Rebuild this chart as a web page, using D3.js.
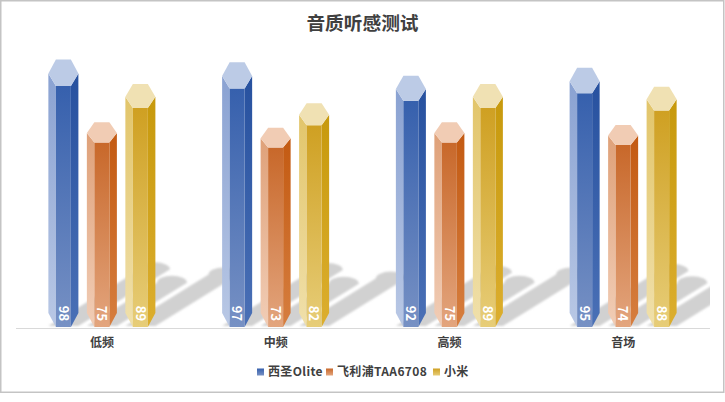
<!DOCTYPE html>
<html lang="zh">
  <head>
    <meta charset="UTF-8" />
    <title>音质听感测试</title>
    <style>
      html, body { margin: 0; padding: 0; background: #fff; }
      svg { display: block; }
      text { font-family: "Noto Sans CJK SC", sans-serif; }
      .x-axis path, .x-axis line { display: none; }
    </style>
  </head>

  <body>
    <script src="https://cdn.jsdelivr.net/npm/d3@7"></script>
    <script>
      // data
      var categories = ["低频", "中频", "高频", "音场"];
      var seriesNames = ["西圣Olite", "飞利浦TAA6708", "小米"];
      var oliteValues = [98, 97, 92, 95];
      var philipsValues = [75, 73, 75, 74];
      var xiaomiValues = [89, 82, 89, 88];
      var seriesValues = [oliteValues, philipsValues, xiaomiValues];

      // colours: [top, bottom] per face
      var palettes = [
        { front: ["#3660ad", "#7791c4"], left: ["#8aa2d2", "#b9c8e5"], right: ["#27519f", "#4a70b6"], cap: "#bccbe6" },
        { front: ["#c8682a", "#e3a57e"], left: ["#dfa179", "#f1cdb6"], right: ["#c35a12", "#d67e3f"], cap: "#f1ccb4" },
        { front: ["#cfa022", "#e7cd78"], left: ["#e2c56a", "#f0e0ab"], right: ["#c7990c", "#dcae2e"], cap: "#f0e1b3" }
      ];

      var width = 725, height = 402;
      var baseY = 328;

      var svg = d3.select("body").append("svg")
        .attr("width", width)
        .attr("height", height);

      var defs = svg.append("defs");
      palettes.forEach(function(p, i) {
        ["front", "left", "right"].forEach(function(face) {
          var g = defs.append("linearGradient")
            .attr("id", "grad-" + i + "-" + face)
            .attr("x1", 0).attr("y1", 0).attr("x2", 0).attr("y2", 1);
          g.append("stop").attr("offset", "0%").attr("stop-color", p[face][0]);
          g.append("stop").attr("offset", "100%").attr("stop-color", p[face][1]);
        });
      });
      defs.append("clipPath").attr("id", "plot-clip")
        .append("rect").attr("x", 16).attr("y", 40).attr("width", 694).attr("height", baseY - 40);
      defs.append("filter").attr("id", "soft")
        .append("feGaussianBlur").attr("stdDeviation", 0.8);

      // frame
      svg.append("rect")
        .attr("x", 0.75).attr("y", 0.75)
        .attr("width", 723).attr("height", 391.5)
        .attr("fill", "#fff")
        .attr("stroke", "#c4c4c4")
        .attr("stroke-width", 1.5);

      // scales
      var xScale = d3.scaleBand()
        .domain(categories)
        .range([15, 710]);
      var xInner = d3.scaleBand()
        .domain(seriesNames)
        .range([0, xScale.bandwidth()])
        .paddingInner(0.22)
        .paddingOuter(0.867);
      var yScale = d3.scaleLinear()
        .domain([0, 100])
        .range([327, 81]);

      var bars = [];
      seriesNames.forEach(function(name, s) {
        categories.forEach(function(cat, c) {
          bars.push({ s: s, name: name, cat: cat, value: seriesValues[s][c] });
        });
      });

      function cx(d) { return xScale(d.cat) + xInner(d.name) + xInner.bandwidth() / 2; }
      function barH(d) { return yScale(0) - yScale(d.value); }
      // cap looks deeper on taller columns
      function capDepth(d) { return d.value * 0.27; }

      var half = xInner.bandwidth() / 2, inner = half / 2;

      // shadows, thrown up and to the right
      var shadows = svg.append("g")
        .attr("clip-path", "url(#plot-clip)")
        .attr("filter", "url(#soft)");
      shadows.selectAll("path")
        .data(bars)
        .enter()
        .append("path")
        .attr("fill", "#d1d1d1")
        .attr("d", function(d) {
          var x = cx(d), y0 = baseY - 2;
          var dx = barH(d) * 0.38, dy = barH(d) * 0.235;
          return "M" + (x - half) + "," + y0 +
            "L" + (x - half + dx) + "," + (y0 - dy) +
            "A" + half + ",7 0 0 1 " + (x + half + dx) + "," + (y0 - dy) +
            "L" + (x + half) + "," + y0 + "Z";
        });

      // baseline
      svg.append("line")
        .attr("x1", 16).attr("x2", 710)
        .attr("y1", baseY + 0.5).attr("y2", baseY + 0.5)
        .attr("stroke", "#d9d9d9")
        .attr("stroke-width", 1);

      // hexagonal columns
      var line = d3.line();

      var col = svg.selectAll(".col")
        .data(bars)
        .enter()
        .append("g")
        .attr("class", "col");

      col.append("path")
        .attr("fill", function(d) { return "url(#grad-" + d.s + "-left)"; })
        .attr("d", function(d) {
          var x = cx(d), t = yScale(d.value), b = yScale(0), m = capDepth(d) * 0.47;
          return line([[x - half, t - m], [x - inner, t], [x - inner, b], [x - half, b - 14]]) + "Z";
        });
      col.append("path")
        .attr("fill", function(d) { return "url(#grad-" + d.s + "-right)"; })
        .attr("d", function(d) {
          var x = cx(d), t = yScale(d.value), b = yScale(0), m = capDepth(d) * 0.47;
          return line([[x + half, t - m], [x + inner, t], [x + inner, b], [x + half, b - 14]]) + "Z";
        });
      col.append("path")
        .attr("fill", function(d) { return "url(#grad-" + d.s + "-front)"; })
        .attr("d", function(d) {
          var x = cx(d), t = yScale(d.value), b = yScale(0);
          return line([[x - inner, t], [x + inner, t], [x + inner, b], [x - inner, b]]) + "Z";
        });
      col.append("path")
        .attr("fill", function(d) { return palettes[d.s].cap; })
        .attr("d", function(d) {
          var x = cx(d), t = yScale(d.value), c = capDepth(d), m = c * 0.47;
          return line([[x - half, t - m], [x - inner, t], [x + inner, t], [x + half, t - m], [x + inner, t - c], [x - inner, t - c]]) + "Z";
        });

      // value labels
      col.append("text")
        .attr("transform", function(d) { return "translate(" + cx(d) + "," + (yScale(0) - 13.5) + ")rotate(90)"; })
        .attr("text-anchor", "middle")
        .attr("dy", "0.36em")
        .attr("fill", "#fff")
        .attr("font-size", 13)
        .attr("font-weight", 700)
        .text(function(d) { return d.value; });

      // category axis
      var xAxis = d3.axisBottom().scale(xScale).tickSize(0).tickPadding(0);
      var axisG = svg.append("g")
        .attr("class", "x-axis")
        .attr("transform", "translate(0,338)")
        .call(xAxis);
      axisG.selectAll("text")
        .attr("font-family", '"Noto Sans CJK SC", sans-serif')
        .attr("font-size", 12)
        .attr("font-weight", 700)
        .attr("fill", "#404040");

      // title
      svg.append("text")
        .attr("x", 362.5).attr("y", 30)
        .attr("text-anchor", "middle")
        .attr("font-size", 18.7)
        .attr("font-weight", 700)
        .attr("fill", "#404040")
        .text("音质听感测试");

      // legend
      var legendX = [257, 326, 433];
      var legend = svg.selectAll(".legend")
        .data(seriesNames)
        .enter()
        .append("g")
        .attr("class", "legend")
        .attr("transform", function(d, i) { return "translate(" + legendX[i] + ",372)"; });
      legend.append("rect")
        .attr("y", -3.5).attr("width", 7).attr("height", 7)
        .attr("fill", function(d, i) { return "url(#grad-" + i + "-front)"; });
      legend.append("text")
        .attr("x", 11)
        .attr("dy", "0.36em")
        .attr("font-size", 12)
        .attr("font-weight", 700)
        .attr("letter-spacing", 0.35)
        .attr("fill", "#404040")
        .text(function(d) { return d; });
    </script>
  </body>
</html>
